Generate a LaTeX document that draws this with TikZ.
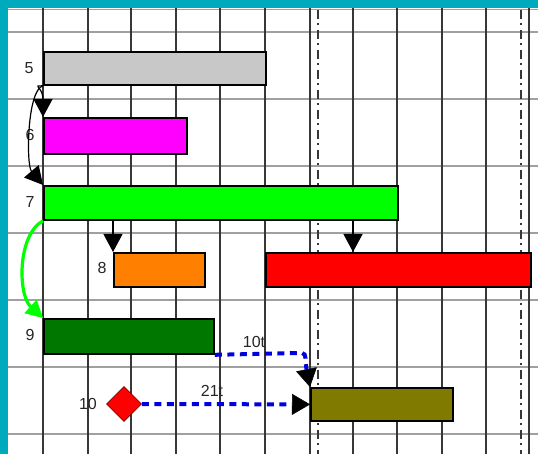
\documentclass[tikz,border=0pt]{standalone}
\usepackage{fontspec}
\setmainfont{Liberation Sans}
\usetikzlibrary{arrows.meta,shapes.geometric}
\definecolor{frameteal}{RGB}{0,170,190}
\definecolor{gridv}{RGB}{55,55,55}
\definecolor{gridh}{RGB}{160,160,160}
\definecolor{barGray}{RGB}{200,200,200}
\definecolor{barMag}{RGB}{255,0,255}
\definecolor{barGreen}{RGB}{0,255,0}
\definecolor{barOrange}{RGB}{255,128,0}
\definecolor{barRed}{RGB}{255,0,0}
\definecolor{barDkGreen}{RGB}{0,120,0}
\definecolor{barOlive}{RGB}{128,122,0}
\definecolor{linkBlue}{RGB}{0,0,224}
\begin{document}
\begin{tikzpicture}[x=1pt,y=-1pt,
  hline/.style={gridh,line width=2pt},
  vline/.style={gridv,line width=2.4pt},
  ddline/.style={gridv,line width=2.2pt,dash pattern=on 9pt off 4pt on 2pt off 5pt},
  bar/.style={draw=black,line width=1.8pt,inner sep=0pt,anchor=north west},
  lbl/.style={font=\fontsize{16}{16}\selectfont,text=black!85,inner sep=0pt},
  blink/.style={black,line width=1.2pt,-{Triangle[length=18pt,width=19pt]}},
  glink/.style={barGreen,line width=3.2pt,-{Triangle[length=17pt,width=18pt,line width=0.5pt]}},
  dlink/.style={linkBlue,line width=4pt,dash pattern=on 7pt off 5.5pt,-{Triangle[length=18pt,width=21pt,color=black,line width=0.5pt]}}]
\useasboundingbox (0,0) rectangle (538,454);
\fill[white] (0,0) rectangle (538,454);
% grid
\draw[gridh,line width=1pt] (8,10) -- (538,10);
\foreach \y in {32,99,166,233,300,367,434} \draw[hline] (8,\y) -- (538,\y);
\foreach \x in {43,88,131,176,220,265,310,353,397,442,486,529} \draw[vline] (\x,8) -- (\x,454);
\foreach \x in {318,521} \draw[ddline] (\x,10) -- (\x,454);
% frame
\fill[frameteal] (0,0) rectangle (538,8);
\fill[frameteal] (0,0) rectangle (8,454);
% bars
\node[bar,fill=barGray,minimum width=222pt,minimum height=33pt] (b5) at (43,51) {};
\node[bar,fill=barMag,minimum width=143pt,minimum height=36pt] (b6) at (43,117) {};
\node[bar,fill=barGreen,minimum width=354pt,minimum height=34pt] (b7) at (43,185) {};
\node[bar,fill=barOrange,minimum width=91pt,minimum height=34pt] (b8) at (113,252) {};
\node[bar,fill=barRed,minimum width=265pt,minimum height=34pt] (bR) at (265,252) {};
\node[bar,fill=barDkGreen,minimum width=170pt,minimum height=35pt] (b9) at (43,318) {};
\node[bar,fill=barOlive,minimum width=142pt,minimum height=33pt] (bO) at (310,387) {};
\node[diamond,fill=barRed,draw=black!50!red,line width=0.8pt,minimum width=35pt,minimum height=35pt,inner sep=0pt] (d10) at (124,404) {};
% labels
\node[lbl] (l5) at (29,68) {5};
\node[lbl] (l6) at (30,135) {6};
\node[lbl] (l7) at (30,202) {7};
\node[lbl] (l8) at (102,268) {8};
\node[lbl] (l9) at (30,335) {9};
\node[lbl] (l10) at (88,404) {10};
\node[lbl] (t10) at (254,342) {10t};
\node[lbl] (t21) at (212,391) {21t};
% link coordinates
\coordinate (r7) at (353,219);
\coordinate (rR) at (353,252);
\coordinate (c9) at (302,353);
% links
\draw[blink] (b5.south west) .. controls (31,86) and (43,86) .. (b6.north west);
\draw[blink] (b5.south west) .. controls (27,90) and (26,165) .. (b7.north west);
\draw[blink] (b8.north west |- b7.south) -- (b8.north west);
\draw[blink] (r7) -- (rR);
\draw[glink] (b7.south west) .. controls (17,235) and (18,295) .. (b9.north west);
\draw[dlink] (b9.south east) -- (c9) .. controls (307,353) and (305,362) .. (bO.north west);
\draw[dlink] (d10.east) -- (bO.west);
\end{tikzpicture}
\end{document}
